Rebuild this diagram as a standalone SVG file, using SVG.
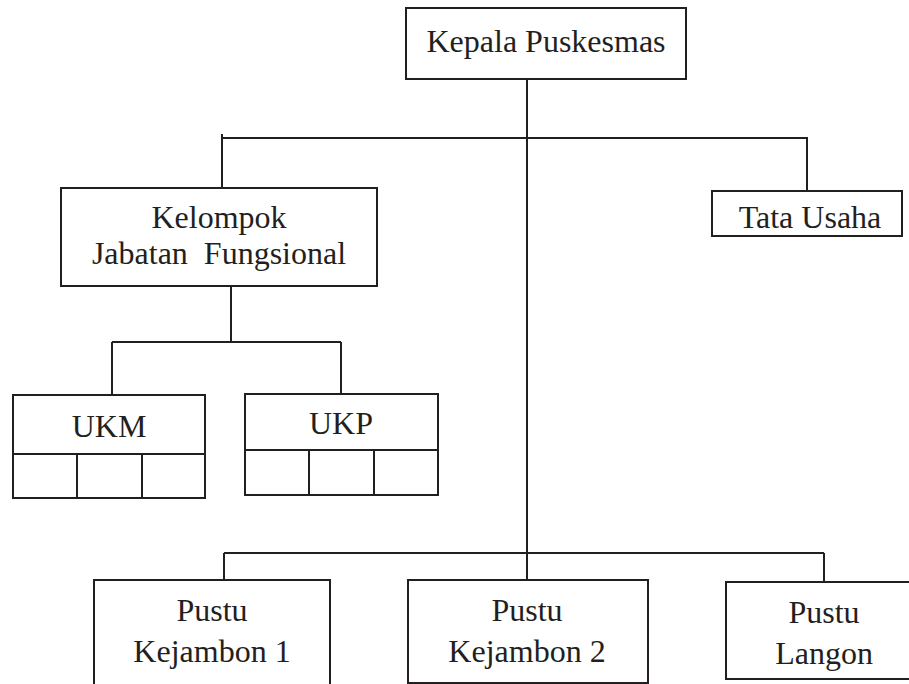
<svg xmlns="http://www.w3.org/2000/svg" width="909" height="684" viewBox="0 0 909 684">
<style>
.box{fill:#fff;stroke:#231f20;stroke-width:2}
.ln{fill:none;stroke:#231f20;stroke-width:2}
.t{font-family:"Liberation Serif","Times New Roman",serif;font-size:32px;fill:#231f20;text-anchor:middle}
</style>
<rect width="909" height="684" fill="#fff"/>
<g id="connectors">
<path class="ln" d="M527 79V580"/>
<path class="ln" d="M222 134V188M222 138H807V191"/>
<path class="ln" d="M231 286V342M112 342H341M112 342V395M341 342V394"/>
<path class="ln" d="M224 553H824M224 553V580M824 553V582"/>
</g>
<g id="kepala">
<rect class="box" x="406" y="8" width="280" height="71"/>
<text class="t" x="546" y="52">Kepala Puskesmas</text>
</g>
<g id="kelompok">
<rect class="box" x="61" y="188" width="316" height="98"/>
<text class="t" x="219" y="228">Kelompok</text>
<text class="t" x="219" y="264" xml:space="preserve">Jabatan  Fungsional</text>
</g>
<g id="tata-usaha">
<rect class="box" x="712" y="191" width="190" height="45"/>
<text class="t" x="810" y="228">Tata Usaha</text>
</g>
<g id="ukm">
<rect class="box" x="13" y="395" width="192" height="103"/>
<path class="ln" d="M13 454H205M77 454V498M142 454V498"/>
<text class="t" x="109" y="437">UKM</text>
</g>
<g id="ukp">
<rect class="box" x="245" y="394" width="193" height="101"/>
<path class="ln" d="M245 450H438M309 450V495M374 450V495"/>
<text class="t" x="341" y="434">UKP</text>
</g>
<g id="pustu-kejambon-1">
<path class="box" d="M94 686V580H330V686"/>
<text class="t" x="212" y="621">Pustu</text>
<text class="t" x="212" y="662">Kejambon 1</text>
</g>
<g id="pustu-kejambon-2">
<rect class="box" x="408" y="580" width="240" height="103"/>
<text class="t" x="527" y="621">Pustu</text>
<text class="t" x="527" y="662">Kejambon 2</text>
</g>
<g id="pustu-langon">
<rect class="box" x="726" y="582" width="186" height="97"/>
<text class="t" x="824" y="623">Pustu</text>
<text class="t" x="824" y="664">Langon</text>
</g>
</svg>
